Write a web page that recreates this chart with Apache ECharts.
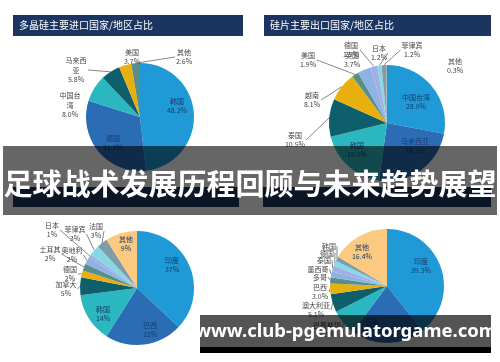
<!DOCTYPE html>
<html><head><meta charset="utf-8">
<script src="https://cdn.jsdelivr.net/npm/echarts@6/dist/echarts.min.js"></script>
<style>html,body{margin:0;padding:0;background:#fff}#c{width:500px;height:362px}</style>
</head><body><div id="c"></div>
<script>
const pageTitle = '足球战术发展历程回顾与未来趋势展望';
const siteUrl = 'www.club-pgemulatorgame.com';

const titleTL = '多晶硅主要进口国家/地区占比';
const namesTL = ['韩国','德国','中国台湾','马来西亚','美国','其他'];
const valuesTL = [48.2,31.7,8.0,5.8,3.7,2.6];

const titleTR = '硅片主要出口国家/地区占比';
const namesTR = ['中国台湾','马来西亚','韩国','泰国','越南','美国','英国','德国','日本','菲律宾','其他'];
const valuesTR = [28.0,24.2,19.0,10.5,8.1,1.9,3.7,1.9,1.2,1.2,0.3];

const namesBL = ['印度','巴西','韩国','加拿大','德国','土耳其','奥地利','日本','菲律宾','法国','其他'];
const valuesBL = [37,22,14,5,2,2,2,1,3,3,9];

const namesBR = ['印度','日本','巴基斯坦','澳大利亚','巴西','多哥','墨西哥','泰国','德国','韩国','其他'];
const valuesBR = [39.3,20.9,7.3,5.1,3.0,1.8,1.7,1.6,1.5,1.3,16.4];

// ---- styling ----
const pal = ['#1f9ad6','#2a6db5','#2bb7c0','#0d5f6c','#e8b00f','#5a8e8b','#8cb3e3','#a3aee6','#86d8e3','#7f9ca8'];
const orange = '#fbc97f';
const colorsTL = pal.slice(0,6);
const colorsTR = pal.concat(['#9fb0a8']);
const colorsBL = pal.concat([orange]);
const colorsBR = pal.concat([orange]);

const FONT = '"Noto Sans CJK SC", sans-serif';

// label placement (style config, label centres in px)
const labTL = [[177,106],[113,143],[70,105],[76,70],[132,57],[184,57]];
const labTR = [[416,102],[415,146],[357,150],[295,140],[312,100],[308,60],[352,60],[351,50],[379,53],[412,50],[455,66]];
const labBL = [[172,265],[150,330],[103,314],[66,289],[70,274],[50,254],[72,255],[52,230],[75,234],[96,231],[126,244]];
const labBR = [[421,266],[372,326],[327,330],[316,310],[320,292],[320,277],[318,269],[324,260],[327,253],[329,246],[362,252]];

function layoutFor(pos, lineIdx) {
  return function(params) {
    const p = pos[params.dataIndex];
    if (!p) return {};
    const out = {x:p[0], y:p[1], align:'center', verticalAlign:'middle'};
    if (lineIdx.includes(params.dataIndex) && params.labelLinePoints) {
      const e = params.labelLinePoints[0];
      const hw = params.labelRect.width/2 + 1;
      const ax = e[0] < p[0] ? p[0]-hw : p[0]+hw;
      out.labelLinePoints = [e, [ax, p[1]], [ax, p[1]]];
    }
    return out;
  };
}

function pie(names, values, colors, center, radius, decimals, insideIdx, wrapIdx, lineIdx, pos, nameOnlyIdx) {
  return {
    type:'pie', center, radius, startAngle:90, clockwise:true, animation:false,
    avoidLabelOverlap:false,
    data: names.map((n,i)=>({
      name:n, value:values[i], itemStyle:{color:colors[i]},
      label: insideIdx.includes(i) ? {position:'inside', color:'#1b3a6b'} :
             (wrapIdx.includes(i) ? {width:22, overflow:'break'} : {}),
      labelLine: {show: lineIdx.includes(i)}
    })),
    label:{fontSize:7, color:'#444', lineHeight:9.5, fontFamily:FONT,
      formatter: p => nameOnlyIdx.includes(p.dataIndex) ? p.name : p.name + '\n' + p.value.toFixed(decimals) + '%'},
    labelLine:{length:5, length2:8, lineStyle:{color:'#555', width:0.7}},
    labelLayout: layoutFor(pos, lineIdx)
  };
}

const chart = echarts.init(document.getElementById('c'), null, {renderer:'canvas'});
chart.setOption({
  backgroundColor:'#fff',
  series:[
    pie(namesTL, valuesTL, colorsTL, [140,117], 54, 1, [0,1], [2,3], [3,5], labTL, []),
    pie(namesTR, valuesTR, colorsTR, [387,123], 58, 1, [0,1,2], [], [3,4,5,7,8,9], labTR, []),
    pie(namesBL, valuesBL, colorsBL, [137,288], 57, 0, [0,1,2,10], [], [3,4,5,6,7,8,9], labBL, []),
    pie(namesBR, valuesBR, colorsBR, [387,286], 57, 1, [0,1,10], [], [2,3,4,5,6,7,8,9], labBR, [5,6,7,8,9])
  ],
  graphic:[
    {type:'rect', shape:{x:13,y:15,width:230,height:21}, style:{fill:'#1b3560'}, z:10},
    {type:'text', x:19, y:25.5, style:{text:titleTL, fill:'#fff', fontSize:10, fontFamily:FONT, verticalAlign:'middle'}, z:11},
    {type:'rect', shape:{x:264,y:15,width:227,height:21}, style:{fill:'#1b3560'}, z:10},
    {type:'text', x:270, y:25.5, style:{text:titleTR, fill:'#fff', fontSize:10, fontFamily:FONT, verticalAlign:'middle'}, z:11},
    {type:'rect', shape:{x:13,y:187,width:226,height:20}, style:{fill:'#1b3560'}, z:10},
    {type:'rect', shape:{x:263,y:187,width:228,height:20}, style:{fill:'#1b3560'}, z:10},
    {type:'rect', shape:{x:3,y:146,width:494,height:69}, style:{fill:'rgba(0,0,0,0.6)'}, z:20},
    {type:'text', x:250, y:184, style:{text:pageTitle, fill:'#fff', fontSize:29, fontWeight:'bold', fontFamily:FONT, align:'center', verticalAlign:'middle'}, z:21},
    {type:'rect', shape:{x:200,y:315,width:291,height:32}, style:{fill:'rgba(0,0,0,0.67)'}, z:20},
    {type:'rect', shape:{x:200,y:347,width:291,height:6}, style:{fill:'#000'}, z:20},
    {type:'text', x:346, y:332, style:{text:siteUrl, fill:'#fff', fontSize:18.5, fontWeight:'bold', fontFamily:'"Noto Sans", sans-serif', align:'center', verticalAlign:'middle'}, z:21}
  ]
});
</script></body></html>
